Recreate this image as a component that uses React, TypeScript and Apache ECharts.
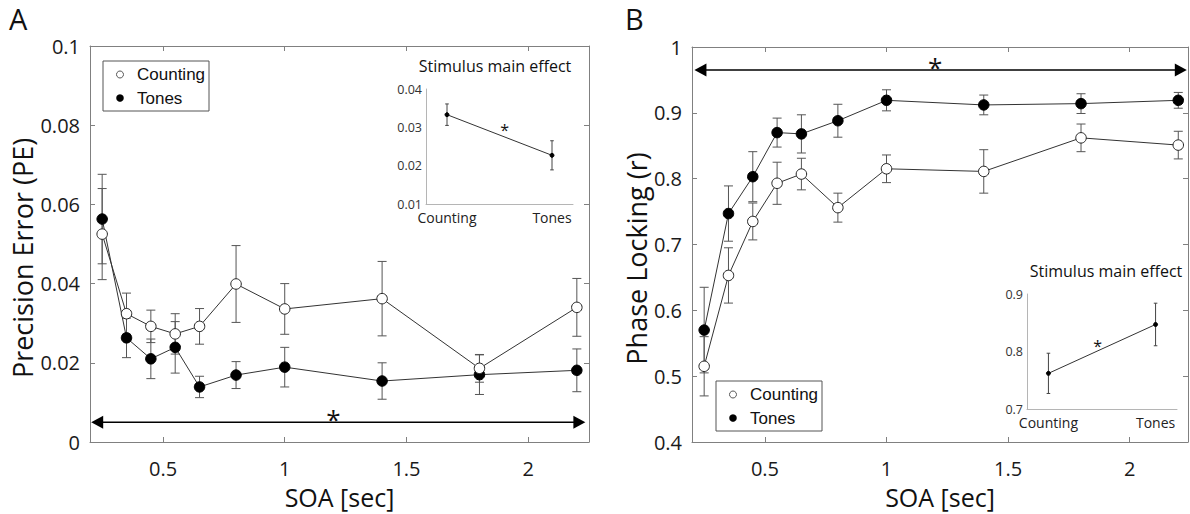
import React, { useEffect, useRef } from 'react';
import * as echarts from 'echarts';

// ---------- data ----------
const soa = [0.25, 0.35, 0.45, 0.55, 0.65, 0.8, 1.0, 1.4, 1.8, 2.2];
const xTicks = [0.5, 1, 1.5, 2];

const peCounting = [0.0525, 0.0324, 0.0292, 0.0273, 0.0292, 0.0399, 0.0336, 0.0362, 0.0186, 0.034];
const peCountingErr = [0.0115, 0.0052, 0.0041, 0.0051, 0.0045, 0.0097, 0.0064, 0.0094, 0.0035, 0.0073];
const peTones = [0.0563, 0.0263, 0.021, 0.0239, 0.0139, 0.0169, 0.0189, 0.0154, 0.017, 0.0181];
const peTonesErr = [0.0113, 0.005, 0.005, 0.0065, 0.0027, 0.0034, 0.005, 0.0046, 0.005, 0.0054];

const plCounting = [0.515, 0.653, 0.735, 0.793, 0.807, 0.756, 0.815, 0.811, 0.862, 0.851];
const plCountingErr = [0.045, 0.042, 0.028, 0.032, 0.024, 0.022, 0.021, 0.033, 0.021, 0.021];
const plTones = [0.57, 0.747, 0.803, 0.87, 0.868, 0.888, 0.919, 0.912, 0.914, 0.919];
const plTonesErr = [0.065, 0.042, 0.038, 0.022, 0.029, 0.025, 0.016, 0.015, 0.015, 0.012];

const insetCats = ['Counting', 'Tones'];
const insetX = [1, 2];
const insetPE = [0.0333, 0.0227];
const insetPEErr = [0.0028, 0.0038];
const insetPL = [0.762, 0.847];
const insetPLErr = [0.035, 0.037];

// significance arrows: [xStart, xEnd, y]
const arrowA = [0.205, 2.235, 0.005];
const arrowB = [0.21, 2.235, 0.965];
// asterisks: [x, y]
const starA = [1.2, 0.0072];
const starB = [1.2, 0.979];
const starInsetA = [1.55, 0.0301];
const starInsetB = [1.46, 0.815];

const FONT = 'Open Sans';
const LEGEND_FONT = 'Liberation Sans';
const AXIS_GRAY = '#808080';
const LINE = '#333';

function errorBars(xi: number, yi: number, xs: number[], ys: number[], errs: number[], cap: number, color: string) {
  return {
    type: 'custom',
    xAxisIndex: xi,
    yAxisIndex: yi,
    silent: true,
    z: 2,
    encode: { x: 0, y: [1, 2] },
    data: xs.map((x, i) => [x, ys[i] - errs[i], ys[i] + errs[i]]),
    renderItem: (_p: any, api: any) => {
      const lo = api.coord([api.value(0), api.value(1)]);
      const hi = api.coord([api.value(0), api.value(2)]);
      const st = { stroke: color, lineWidth: 1 };
      return {
        type: 'group',
        children: [
          { type: 'line', shape: { x1: lo[0], y1: lo[1], x2: hi[0], y2: hi[1] }, style: st },
          { type: 'line', shape: { x1: lo[0] - cap, y1: lo[1], x2: lo[0] + cap, y2: lo[1] }, style: st },
          { type: 'line', shape: { x1: hi[0] - cap, y1: hi[1], x2: hi[0] + cap, y2: hi[1] }, style: st },
        ],
      };
    },
  };
}

function arrowSeries(xi: number, yi: number, a: number[]) {
  return {
    type: 'custom',
    xAxisIndex: xi,
    yAxisIndex: yi,
    silent: true,
    z: 3,
    encode: { x: [0, 1], y: 2 },
    data: [a],
    renderItem: (_p: any, api: any) => {
      const p0 = api.coord([api.value(0), api.value(2)]);
      const p1 = api.coord([api.value(1), api.value(2)]);
      const L = 12, H = 6.5;
      return {
        type: 'group',
        children: [
          { type: 'line', shape: { x1: p0[0] + L - 1, y1: p0[1], x2: p1[0] - L + 1, y2: p1[1] }, style: { stroke: '#000', lineWidth: 1.5 } },
          { type: 'polygon', shape: { points: [[p0[0], p0[1]], [p0[0] + L, p0[1] - H], [p0[0] + L, p0[1] + H]] }, style: { fill: '#000' } },
          { type: 'polygon', shape: { points: [[p1[0], p1[1]], [p1[0] - L, p1[1] - H], [p1[0] - L, p1[1] + H]] }, style: { fill: '#000' } },
        ],
      };
    },
  };
}

function starSeries(xi: number, yi: number, s: number[], size: number) {
  return {
    type: 'custom',
    xAxisIndex: xi,
    yAxisIndex: yi,
    silent: true,
    z: 3,
    encode: { x: 0, y: 1 },
    data: [s],
    renderItem: (_p: any, api: any) => {
      const p = api.coord([api.value(0), api.value(1)]);
      return {
        type: 'text',
        x: p[0],
        y: p[1] + size * 0.22,
        style: { text: '*', fontSize: size, fontFamily: FONT, fill: '#111', align: 'center', verticalAlign: 'middle' },
      };
    },
  };
}

function lineSeries(name: string, xi: number, yi: number, xs: number[], ys: number[], filled: boolean, size: number, z: number) {
  return {
    type: 'line',
    name,
    xAxisIndex: xi,
    yAxisIndex: yi,
    data: xs.map((x, i) => [x, ys[i]]),
    symbol: 'circle',
    symbolSize: size,
    showAllSymbol: true,
    z,
    lineStyle: { color: LINE, width: 1 },
    itemStyle: filled
      ? { color: '#000', borderColor: '#000', borderWidth: 1 }
      : { color: '#fff', borderColor: '#222', borderWidth: 1 },
    emphasis: { disabled: true },
  };
}

function mainX(grid: number, max: number, bottom: boolean) {
  return {
    type: 'value',
    gridIndex: grid,
    position: bottom ? 'bottom' : 'top',
    min: 0.2,
    max,
    name: bottom ? 'SOA [sec]' : '',
    nameLocation: 'middle',
    nameGap: 42,
    nameTextStyle: { fontSize: 25, fontFamily: FONT, color: '#111' },
    axisLine: { show: true, onZero: false, lineStyle: { color: AXIS_GRAY, width: 1 } },
    axisTick: { show: true, inside: true, length: 5, customValues: xTicks, lineStyle: { color: AXIS_GRAY } },
    axisLabel: {
      show: bottom,
      customValues: xTicks,
      fontSize: 20,
      fontFamily: FONT,
      color: '#1a1a1a',
      margin: 16,
      formatter: (v: number) => String(+v.toFixed(2)),
    },
    splitLine: { show: false },
  };
}

function mainY(grid: number, min: number, max: number, interval: number, dec: number, left: boolean, name: string, gap: number) {
  return {
    type: 'value',
    gridIndex: grid,
    position: left ? 'left' : 'right',
    min,
    max,
    interval,
    name: left ? name : '',
    nameLocation: 'middle',
    nameGap: gap,
    nameTextStyle: { fontSize: 27, fontFamily: FONT, color: '#111', padding: [0, 28, 0, 0] },
    axisLine: { show: true, onZero: false, lineStyle: { color: AXIS_GRAY, width: 1 } },
    axisTick: { show: true, inside: true, length: 5, lineStyle: { color: AXIS_GRAY } },
    axisLabel: {
      show: left,
      fontSize: 20,
      fontFamily: FONT,
      color: '#1a1a1a',
      margin: 10,
      formatter: (v: number) => (Math.abs(v) < 1e-9 ? '0' : String(+v.toFixed(dec))),
    },
    splitLine: { show: false },
  };
}

function insetX_(grid: number) {
  return {
    type: 'value',
    gridIndex: grid,
    min: 0.8,
    max: 2.2,
    axisLine: { show: true, onZero: false, lineStyle: { color: '#b5b5b5', width: 1 } },
    axisTick: { show: false },
    axisLabel: {
      customValues: insetX,
      fontSize: 14,
      fontFamily: FONT,
      color: '#222',
      margin: 6,
      formatter: (v: number) => insetCats[Math.round(v) - 1] || '',
    },
    splitLine: { show: false },
  };
}

function insetY_(grid: number, min: number, max: number, interval: number, dec: number) {
  return {
    type: 'value',
    gridIndex: grid,
    min,
    max,
    interval,
    axisLine: { show: true, onZero: false, lineStyle: { color: '#b5b5b5', width: 1 } },
    axisTick: { show: false },
    axisLabel: { fontSize: 12.5, fontFamily: FONT, color: '#333', margin: 4, formatter: (v: number) => v.toFixed(dec) },
    splitLine: { show: false },
  };
}

function legendGraphic(x: number, y: number) {
  return {
    type: 'group',
    x,
    y,
    children: [
      { type: 'rect', shape: { x: 0, y: 0, width: 106, height: 50 }, style: { fill: '#fff', stroke: '#555', lineWidth: 1 } },
      { type: 'circle', shape: { cx: 17, cy: 13.5, r: 3.5 }, style: { fill: '#fff', stroke: '#555', lineWidth: 1 } },
      { type: 'circle', shape: { cx: 17, cy: 37, r: 3.8 }, style: { fill: '#000' } },
      { type: 'text', x: 34, y: 13.5, style: { text: 'Counting', fontSize: 17, fontFamily: LEGEND_FONT, fill: '#111', verticalAlign: 'middle' } },
      { type: 'text', x: 34, y: 37, style: { text: 'Tones', fontSize: 17, fontFamily: LEGEND_FONT, fill: '#111', verticalAlign: 'middle' } },
    ],
  };
}

export default function App() {
  const ref = useRef<HTMLDivElement>(null);
  useEffect(() => {
    if (!ref.current) return;
    const chart = echarts.init(ref.current, undefined, { renderer: 'svg' });
    const option: any = {
      animation: false,
      backgroundColor: '#fff',
      grid: [
        { left: 90, top: 46, width: 499, height: 396 },
        { left: 426, top: 89, width: 147, height: 115 },
        { left: 692, top: 47, width: 496, height: 396 },
        { left: 1027, top: 294, width: 150, height: 115 },
      ],
      xAxis: [
        mainX(0, 2.25, true),
        mainX(0, 2.25, false),
        insetX_(1),
        mainX(2, 2.24, true),
        mainX(2, 2.24, false),
        insetX_(3),
      ],
      yAxis: [
        mainY(0, 0, 0.1, 0.02, 2, true, 'Precision Error (PE)', 54),
        mainY(0, 0, 0.1, 0.02, 2, false, '', 0),
        insetY_(1, 0.01, 0.04, 0.01, 2),
        mainY(2, 0.4, 1, 0.1, 1, true, 'Phase Locking (r)', 42),
        mainY(2, 0.4, 1, 0.1, 1, false, '', 0),
        insetY_(3, 0.7, 0.9, 0.1, 1),
      ],
      series: [
        // Panel A
        errorBars(0, 0, soa, peCounting, peCountingErr, 4.5, '#555'),
        errorBars(0, 0, soa, peTones, peTonesErr, 4.5, '#555'),
        lineSeries('Tones', 0, 0, soa, peTones, true, 10.5, 4),
        lineSeries('Counting', 0, 0, soa, peCounting, false, 10.5, 5),
        arrowSeries(0, 0, arrowA),
        starSeries(0, 0, starA, 26),
        // Inset A
        errorBars(2, 2, insetX, insetPE, insetPEErr, 1.8, '#444'),
        lineSeries('Stimulus', 2, 2, insetX, insetPE, true, 4, 4),
        starSeries(2, 2, starInsetA, 16),
        // Panel B
        errorBars(3, 3, soa, plCounting, plCountingErr, 4.5, '#555'),
        errorBars(3, 3, soa, plTones, plTonesErr, 4.5, '#555'),
        lineSeries('Tones', 3, 3, soa, plTones, true, 10.5, 4),
        lineSeries('Counting', 3, 3, soa, plCounting, false, 10.5, 5),
        arrowSeries(3, 3, arrowB),
        starSeries(3, 3, starB, 26),
        // Inset B
        errorBars(5, 5, insetX, insetPL, insetPLErr, 1.8, '#444'),
        lineSeries('Stimulus', 5, 5, insetX, insetPL, true, 4, 4),
        starSeries(5, 5, starInsetB, 16),
      ],
      graphic: [
        { type: 'text', x: 9, y: 4, style: { text: 'A', fontSize: 29, fontFamily: FONT, fill: '#111' } },
        { type: 'text', x: 625, y: 4, style: { text: 'B', fontSize: 29, fontFamily: FONT, fill: '#111' } },
        { type: 'text', x: 495, y: 66, style: { text: 'Stimulus main effect', fontSize: 16, fontFamily: FONT, fill: '#111', align: 'center', verticalAlign: 'middle' } },
        { type: 'text', x: 1106, y: 271, style: { text: 'Stimulus main effect', fontSize: 16, fontFamily: FONT, fill: '#111', align: 'center', verticalAlign: 'middle' } },
        legendGraphic(103, 61),
        legendGraphic(716, 381),
      ],
    };
    chart.setOption(option);
    return () => chart.dispose();
  }, []);
  return (
    <div
      ref={ref}
      style={{ position: 'fixed', left: 0, top: 0, width: 1190, height: 514, background: '#fff' }}
    />
  );
}
